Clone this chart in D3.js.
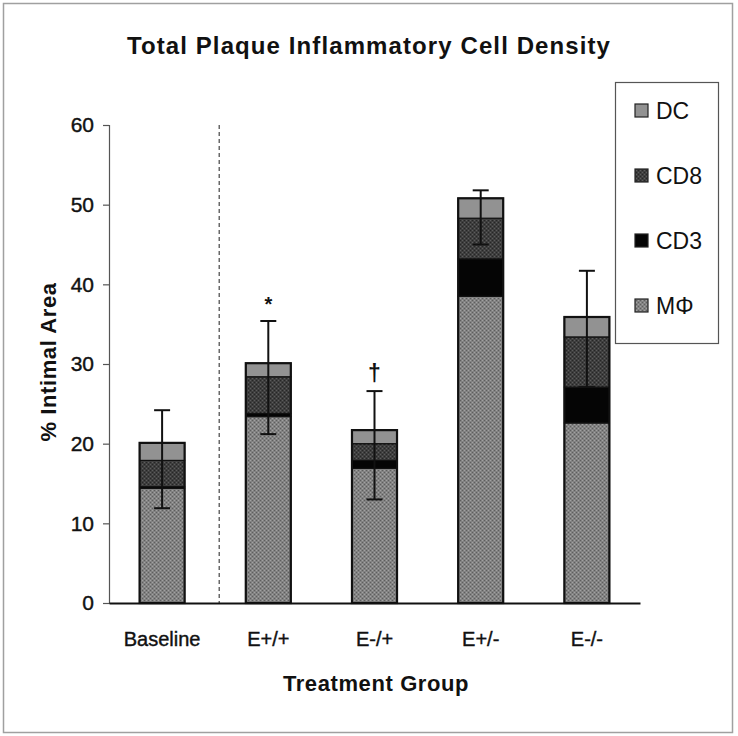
<!DOCTYPE html>
<html>
<head>
<meta charset="utf-8">
<script src="https://cdn.jsdelivr.net/npm/d3@7"></script>
<style>
  body { margin: 0; background: #fff; }
  svg text { font-family: Arial, "Liberation Sans", sans-serif; fill: #111; }
</style>
</head>
<body>
<svg id="chart" width="738" height="736"></svg>
<script>
// data
var groups = ["Baseline", "E+/+", "E-/+", "E+/-", "E-/-"];
var macro  = [14.4, 23.4, 16.9, 38.5, 22.6];   // MΦ
var cd3    = [0.2, 0.4, 1.0, 4.7, 4.5];
var cd8    = [3.3, 4.6, 2.1, 5.1, 6.3];
var dc     = [2.2, 1.7, 1.7, 2.5, 2.5];
var errHigh = [24.2, 35.4, 26.6, 51.8, 41.7];
var errLow  = [11.9, 21.2, 13.0, 45.0, 27.1];
var marks   = ["", "*", "\u2020", "", ""];
var yTicks  = [0, 10, 20, 30, 40, 50, 60];
var seriesNames = ["MΦ", "CD3", "CD8", "DC"];
var legendOrder = ["DC", "CD8", "CD3", "MΦ"];

var svg = d3.select("#chart");

// stipple patterns
var defs = svg.append("defs");
function stipple(id, base, dot1, dot2) {
    var p = defs.append("pattern").attr("id", id)
        .attr("width", 4).attr("height", 4).attr("patternUnits", "userSpaceOnUse");
    p.append("rect").attr("width", 4).attr("height", 4).attr("fill", base);
    p.append("rect").attr("x", 0).attr("y", 0).attr("width", 1).attr("height", 1).attr("fill", dot1);
    p.append("rect").attr("x", 2).attr("y", 2).attr("width", 1).attr("height", 1).attr("fill", dot1);
    p.append("rect").attr("x", 2).attr("y", 0).attr("width", 1).attr("height", 1).attr("fill", dot2);
    p.append("rect").attr("x", 0).attr("y", 2).attr("width", 1).attr("height", 1).attr("fill", dot2);
}
stipple("patMac", "#828282", "#5e5e5e", "#a2a2a2");
stipple("patCd8", "#3e3e3e", "#262626", "#5c5c5c");

var fills = {"MΦ": "url(#patMac)", "CD3": "#050505", "CD8": "url(#patCd8)", "DC": "#929292"};

// outer frame
svg.append("rect").attr("x", 3.5).attr("y", 3.5).attr("width", 729).attr("height", 729)
    .attr("fill", "none").attr("stroke", "#a0a0a0").attr("stroke-width", 1.5);

var x = d3.scaleBand().domain(groups).range([109, 640])
    .paddingInner(0.576).paddingOuter(0.288);
var y = d3.scaleLinear().domain([0, 60]).range([603, 125]);

// stacked data
var rows = groups.map(function(g, i) {
    return {group: g, "MΦ": macro[i], "CD3": cd3[i], "CD8": cd8[i], "DC": dc[i]};
});
var stack = d3.stack().keys(seriesNames)(rows);

// y axis
var yAxis = d3.axisLeft(y).tickValues(yTicks).tickSize(6).tickPadding(9);
var ya = svg.append("g").attr("transform", "translate(109,0)").call(yAxis);
ya.select(".domain").attr("stroke", "#555").attr("stroke-width", 1.2);
ya.selectAll(".tick line").attr("stroke", "#555").attr("stroke-width", 1.2);
ya.selectAll(".tick text").style("font-size", "21px").attr("fill", "#111")
    .attr("stroke", "#111").attr("stroke-width", 0.4)
    .style("font-family", "Arial, 'Liberation Sans', sans-serif");

// dashed separator between baseline and treatment groups
var sepX = x(groups[0]) + x.bandwidth() + (x.step() - x.bandwidth()) / 2 + 4;
svg.append("line").attr("x1", sepX).attr("x2", sepX).attr("y1", y(60)).attr("y2", y(0))
    .attr("stroke", "#444").attr("stroke-width", 1.2).attr("stroke-dasharray", "4,3");

// bars
svg.append("g").selectAll("g").data(stack).join("g")
    .attr("fill", function(d) { return fills[d.key]; })
    .selectAll("rect").data(function(d) { return d; }).join("rect")
    .attr("x", function(d) { return x(d.data.group); })
    .attr("y", function(d) { return y(d[1]); })
    .attr("width", x.bandwidth())
    .attr("height", function(d) { return y(d[0]) - y(d[1]); })
    .attr("stroke", "#111").attr("stroke-width", 1.2);

// bar outlines
svg.append("g").selectAll("rect").data(rows).join("rect")
    .attr("x", function(d) { return x(d.group); })
    .attr("y", function(d) { return y(d["MΦ"] + d["CD3"] + d["CD8"] + d["DC"]); })
    .attr("width", x.bandwidth())
    .attr("height", function(d) { return y(0) - y(d["MΦ"] + d["CD3"] + d["CD8"] + d["DC"]); })
    .attr("fill", "none").attr("stroke", "#111").attr("stroke-width", 2.2);

// x axis
var xAxis = d3.axisBottom(x).tickSize(0).tickPadding(29);
var xa = svg.append("g").attr("transform", "translate(0,603)").call(xAxis);
xa.select(".domain").attr("stroke", "#111").attr("stroke-width", 2);
xa.selectAll(".tick text").style("font-size", "20px").attr("fill", "#111")
    .attr("stroke", "#111").attr("stroke-width", 0.4)
    .style("font-family", "Arial, 'Liberation Sans', sans-serif");

// error bars
var eb = svg.append("g").attr("stroke", "#111").attr("stroke-width", 2);
groups.forEach(function(g, i) {
    var cx = x(g) + x.bandwidth() / 2;
    eb.append("line").attr("x1", cx).attr("x2", cx).attr("y1", y(errLow[i])).attr("y2", y(errHigh[i]));
    eb.append("line").attr("x1", cx - 8).attr("x2", cx + 8).attr("y1", y(errHigh[i])).attr("y2", y(errHigh[i]));
    eb.append("line").attr("x1", cx - 8).attr("x2", cx + 8).attr("y1", y(errLow[i])).attr("y2", y(errLow[i]));
    if (marks[i]) {
        svg.append("text").attr("x", cx).attr("y", y(errHigh[i]) - 10)
            .attr("text-anchor", "middle").style("font-size", marks[i] == "*" ? "20px" : "23px")
            .style("font-weight", "bold").text(marks[i]);
    }
});

// title and axis labels
svg.append("text").attr("x", 369).attr("y", 54).attr("text-anchor", "middle")
    .style("font-size", "24px").style("font-weight", "bold").style("letter-spacing", "1.1px")
    .text("Total Plaque Inflammatory Cell Density");
svg.append("text").attr("x", 376).attr("y", 691).attr("text-anchor", "middle")
    .style("font-size", "22px").style("font-weight", "bold").style("letter-spacing", "0.6px")
    .text("Treatment Group");
svg.append("text").attr("transform", "translate(56,362) rotate(-90)").attr("text-anchor", "middle")
    .style("font-size", "22px").style("font-weight", "bold").style("letter-spacing", "0.6px")
    .text("% Intimal Area");

// legend
var lg = svg.append("g");
lg.append("rect").attr("x", 615.5).attr("y", 82.5).attr("width", 103).attr("height", 261)
    .attr("fill", "#fff").attr("stroke", "#555").attr("stroke-width", 1.2);
legendOrder.forEach(function(k, i) {
    var cy = 110 + i * 65;
    lg.append("rect").attr("x", 635).attr("y", cy - 6).attr("width", 13).attr("height", 13)
        .attr("fill", fills[k]).attr("stroke", "#222").attr("stroke-width", 1.2);
    lg.append("text").attr("x", 656).attr("y", cy + 9).style("font-size", "23px").text(k);
});
</script>
</body>
</html>
